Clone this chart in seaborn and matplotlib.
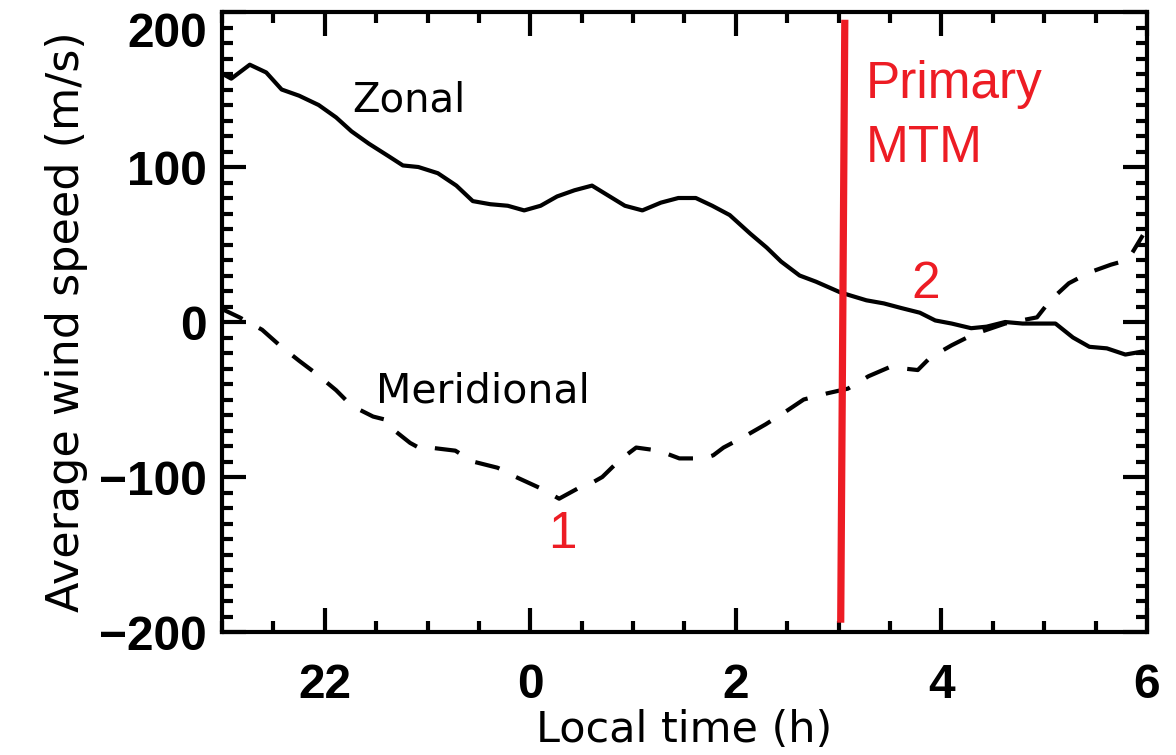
import numpy as np
import pandas as pd
import matplotlib
matplotlib.use("Agg")
import matplotlib.pyplot as plt
import seaborn as sns

# local time in hours, continuous past midnight (24 = 0 h)
zonal_t = [20.98, 21.09, 21.27, 21.43, 21.58, 21.75, 21.94, 22.11, 22.26, 22.43,
           22.62, 22.76, 22.91, 23.10, 23.28, 23.44, 23.61, 23.78, 23.94, 24.10,
           24.26, 24.43, 24.60, 24.92, 25.09, 25.27, 25.44, 25.61, 25.77, 25.94,
           26.14, 26.30, 26.44, 26.62, 26.78, 27.02, 27.27, 27.44, 27.61, 27.79,
           27.94, 28.10, 28.29, 28.44, 28.62, 28.79, 29.11, 29.28, 29.44, 29.61,
           29.79, 29.96]
zonal_v = [161, 157, 166, 161, 150, 146, 140, 132, 123, 115,
           107, 101, 100, 96, 88, 78, 76, 75, 72, 75,
           81, 85, 88, 75, 72, 77, 80, 80, 75, 69,
           57, 48, 39, 30, 26, 19, 14, 12, 9, 6,
           1, -1, -4, -3, 0, -1, -1, -10, -16, -17,
           -21, -19]

merid_t = [20.98, 21.17, 21.39, 21.56, 21.75, 21.91, 22.11, 22.26, 22.47, 22.59,
           22.64, 22.83, 22.94, 23.02, 23.27, 23.44, 23.68, 23.78, 23.86, 24.09,
           24.28, 24.50, 24.62, 24.70, 24.87, 25.03, 25.25, 25.45, 25.69, 25.78,
           25.88, 26.08, 26.29, 26.48, 26.66, 26.89, 27.09, 27.29, 27.50, 27.77,
           27.89, 28.10, 28.31, 28.62, 28.93, 29.06, 29.24, 29.44, 29.65, 29.81,
           29.86, 29.96]
merid_v = [9, 3, -5, -15, -25, -33, -44, -54, -61, -63,
           -68, -78, -82, -81, -83, -90, -94, -97, -100, -107,
           -114, -106, -103, -100, -89, -81, -83, -88, -88, -86,
           -81, -74, -66, -58, -50, -46, -43, -35, -29, -31,
           -23, -15, -8, -1, 3, 14, 25, 32, 37, 40,
           45, 56]

x_ticks = [22, 24, 26, 28, 30]
x_labels = ["22", "0", "2", "4", "6"]
y_ticks = [-200, -100, 0, 100, 200]

mtm_t = [27.06, 27.02]
mtm_v = [195, -194]

red = "#ED1C24"

df = pd.concat([
    pd.DataFrame({"t": zonal_t, "v": zonal_v, "comp": "Zonal"}),
    pd.DataFrame({"t": merid_t, "v": merid_v, "comp": "Meridional"}),
])

sns.set_style("ticks", {"axes.edgecolor": "black", "text.color": "black",
                        "axes.labelcolor": "black", "xtick.color": "black",
                        "ytick.color": "black"})
plt.rcParams["font.family"] = ["DejaVu Sans"]

fig = plt.figure(figsize=(11.76, 7.55), dpi=100)
ax = fig.add_axes([0.1888, 0.1629, 0.7865, 0.8212])

sns.lineplot(data=df, x="t", y="v", style="comp", color="black", linewidth=3,
             dashes={"Zonal": "", "Meridional": (6, 4.5)}, legend=False, ax=ax,
             estimator=None, sort=False)

# primary MTM marker
ax.plot(mtm_t, mtm_v, color=red, linewidth=5.2, solid_capstyle="butt")
ax.text(27.26, 144.5, "Primary", color=red, fontsize=37, fontfamily="Liberation Sans",
        va="baseline", ha="left")
ax.text(27.26, 103, "MTM", color=red, fontsize=37, fontfamily="Liberation Sans",
        va="baseline", ha="left")
ax.text(27.85, 24.5, "2", color=red, fontsize=37, fontfamily="Liberation Sans",
        ha="center", va="center")
ax.text(24.31, -137, "1", color=red, fontsize=37, fontfamily="Liberation Sans",
        ha="center", va="center")

ax.text(22.27, 142.6, "Zonal", fontsize=29, va="center", ha="left")
ax.text(22.5, -45, "Meridional", fontsize=29.5, va="center", ha="left")

ax.set_xlim(21, 30)
ax.set_ylim(-200, 200)
ax.set_xticks(x_ticks)
ax.set_xticklabels(x_labels)
ax.set_yticks(y_ticks)
ax.set_xticks(np.arange(21, 30.01, 0.5), minor=True)
ax.set_yticks(np.arange(-200, 201, 10), minor=True)

ax.tick_params(which="both", direction="in", top=True, right=True, width=3)
ax.tick_params(which="major", length=17)
ax.tick_params(which="minor", length=8)
ax.tick_params(axis="x", which="major", pad=22)
ax.tick_params(axis="y", which="major", pad=11)
for lab in ax.get_xticklabels() + ax.get_yticklabels():
    lab.set_fontfamily("Liberation Sans")
    lab.set_fontweight("bold")
    lab.set_fontsize(34.5)
# top label sits just below the frame
ax.get_yticklabels()[-1].set_verticalalignment("top")

for sp in ax.spines.values():
    sp.set_linewidth(3)
    sp.set_visible(True)

ax.set_xlabel("Local time (h)", fontsize=31, labelpad=1)
ax.set_ylabel("Average wind speed (m/s)", fontsize=32, labelpad=8)

fig.savefig("out.png", dpi=100)
